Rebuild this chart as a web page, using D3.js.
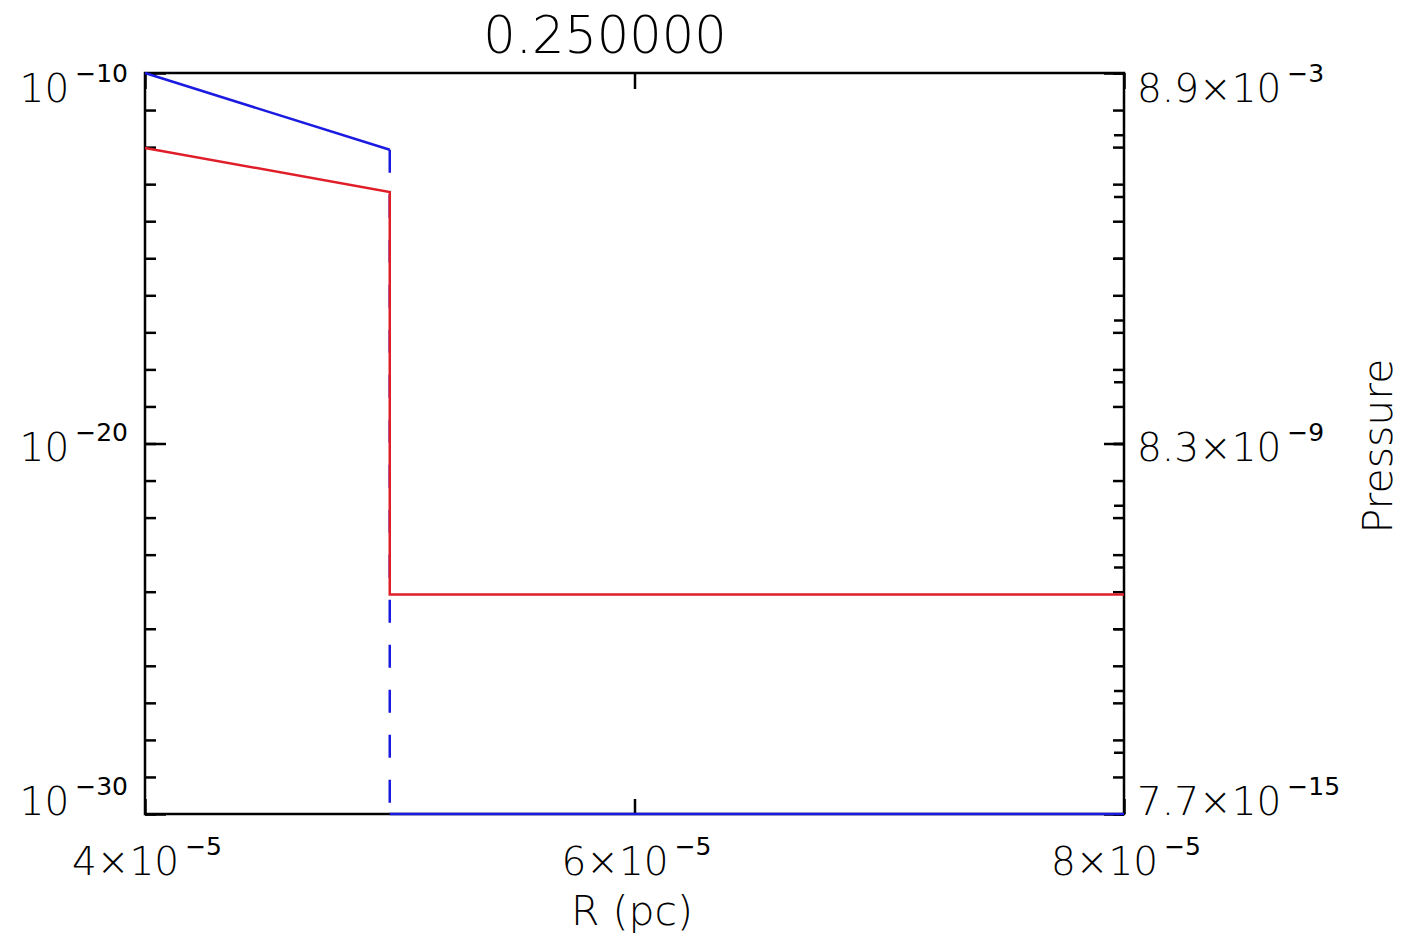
<!DOCTYPE html>
<html>
<head>
<meta charset="utf-8">
<script src="https://cdn.jsdelivr.net/npm/d3@7"></script>
<style>
  body { margin: 0; background: #fff; }
  text { font-family: "DejaVu Sans", sans-serif; font-weight: 200; fill: #000; }
  tspan.sup { font-weight: 400; }
</style>
</head>
<body>
<svg id="chart" width="1410" height="948"></svg>
<script>
// profiles at t = 0.25
const radius   = [4e-5, 5e-5, 5e-5, 8e-5];
const density  = [9.5e-13, 6.1e-14, 8.4e-25, 8.4e-25];
const pressure = [8.9e-3, 5.0e-4, 7.7e-15, 7.7e-15];

const title = "0.250000";
const xTitle = "R (pc)";
const yRightTitle = "Pressure";
const xTicks = [4e-5, 6e-5, 8e-5];
const xTickLabels = [["4×10", "−5"], ["6×10", "−5"], ["8×10", "−5"]];
const leftMajor = [1e-10, 1e-20, 1e-30];
const leftTickLabels = [["10", "−10"], ["10", "−20"], ["10", "−30"]];
const rightTickLabels = [["8.9×10", "−3"], ["8.3×10", "−9"], ["7.7×10", "−15"]];

const W = 1410, H = 948;
const m = { left: 145, right: 1124, top: 73, bottom: 814 };

const svg = d3.select("#chart");

const x = d3.scaleLinear().domain([4e-5, 8e-5]).range([m.left, m.right]);
const yL = d3.scaleLog().domain([1e-30, 1e-10]).range([m.bottom, m.top]);
const pExt = d3.extent(pressure);
const yR = d3.scaleLog().domain(pExt).range([m.bottom, m.top]);

const decades = d3.range(-30, -9).map(e => Math.pow(10, e));
const lp0 = Math.log10(pExt[0]), lp1 = Math.log10(pExt[1]);
const pTicks = d3.range(13).map(i => Math.pow(10, lp0 + i * (lp1 - lp0) / 12));
const pMajor = [pTicks[0], pTicks[6], pTicks[12]];

function tickGroup(axis, tx, ty) {
  const g = svg.append("g").attr("transform", `translate(${tx},${ty})`).call(axis);
  g.select(".domain").remove();
  g.selectAll(".tick line").attr("stroke", "#000").attr("stroke-width", 2.5);
  g.selectAll(".tick text").remove();
  return g;
}

// frame
svg.append("rect")
  .attr("x", m.left).attr("y", m.top)
  .attr("width", m.right - m.left).attr("height", m.bottom - m.top)
  .attr("fill", "none").attr("stroke", "#000").attr("stroke-width", 2.5);

// left axis ticks (inward)
tickGroup(d3.axisLeft(yL).tickValues(decades).tickSize(-11), m.left, 0);
tickGroup(d3.axisLeft(yL).tickValues(leftMajor).tickSize(-21), m.left, 0);
// right side: mirror of left plus pressure axis
tickGroup(d3.axisRight(yL).tickValues(decades).tickSize(-11), m.right, 0);
tickGroup(d3.axisRight(yR).tickValues(pTicks).tickSize(-10), m.right, 0);
tickGroup(d3.axisRight(yR).tickValues(pMajor).tickSize(-20), m.right, 0);
// x ticks top and bottom
tickGroup(d3.axisBottom(x).tickValues(xTicks).tickSize(-15), 0, m.bottom);
tickGroup(d3.axisTop(x).tickValues(xTicks).tickSize(-16), 0, m.top);

// data lines
const pPts = radius.map((r, i) => [x(r), yR(pressure[i])]);
const dPts = radius.map((r, i) => [x(r), yL(density[i])]);

svg.append("g").selectAll("line")
  .data(d3.pairs(pPts))
  .join("line")
  .attr("x1", d => d[0][0]).attr("y1", d => d[0][1])
  .attr("x2", d => d[1][0]).attr("y2", d => d[1][1])
  .attr("stroke", "#1a1ae0").attr("stroke-width", 2.5)
  .attr("stroke-dasharray", d => d[0][0] === d[1][0] ? "23,22" : null);

svg.append("path")
  .attr("d", d3.line()(dPts))
  .attr("fill", "none").attr("stroke", "#e01e2a").attr("stroke-width", 2.5);

// labels
function sciLabel(px, py, parts, anchor) {
  const t = svg.append("text")
    .attr("x", px).attr("y", py)
    .attr("text-anchor", anchor)
    .attr("font-size", 39);
  t.append("tspan").text(parts[0]);
  t.append("tspan").attr("class", "sup")
    .attr("dx", 6).attr("dy", -20).attr("font-size", 25).text(parts[1]);
}
const labelY = v => Math.max(m.top + 29, Math.min(m.bottom + 1, v + 17));

leftMajor.forEach((v, i) => sciLabel(128, labelY(yL(v)), leftTickLabels[i], "end"));
pMajor.slice().reverse().forEach((v, i) => sciLabel(1137, labelY(yR(v)), rightTickLabels[i], "start"));
xTicks.forEach((v, i) => sciLabel(x(v) + 2, 875, xTickLabels[i], "middle"));

svg.append("text")
  .attr("x", 605).attr("y", 53)
  .attr("text-anchor", "middle").attr("font-size", 51)
  .text(title);

svg.append("text")
  .attr("x", 632).attr("y", 925)
  .attr("text-anchor", "middle").attr("font-size", 41)
  .text(xTitle);

svg.append("text")
  .attr("transform", `translate(1392,446) rotate(-90)`)
  .attr("text-anchor", "middle").attr("font-size", 41)
  .text(yRightTitle);
</script>
</body>
</html>
